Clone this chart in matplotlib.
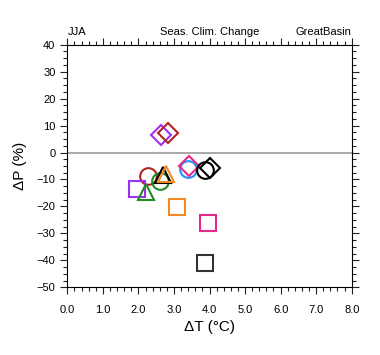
import matplotlib
matplotlib.use("Agg")
import matplotlib.pyplot as plt
from matplotlib.ticker import MultipleLocator, FormatStrFormatter

plt.rcParams['font.family'] = ['Liberation Sans', 'DejaVu Sans']

# data: (dT, dP)
dT = [2.63, 2.84, 2.27, 1.95, 2.22, 2.62, 2.70, 2.77, 3.39, 3.43, 3.86, 4.01, 3.09, 3.97, 3.87]
dP = [6.5, 7.1, -8.7, -13.5, -14.5, -10.5, -8.3, -8.1, -6.2, -4.9, -6.6, -5.9, -20.2, -26.3, -40.9]
markers = ['D', 'D', 'o', 's', '^', 'o', '^', '^', 'o', 'D', 'o', 'D', 's', 's', 's']
colors = ['#A030F0', '#B22222', '#B22222', '#A030F0', '#228B22', '#228B22', '#000000', '#F08A24',
          '#1E90FF', '#E7298A', '#000000', '#000000', '#F08A24', '#E7298A', '#333333']

fig = plt.figure(figsize=(3.8, 3.55), dpi=100)
ax = fig.add_axes([67.3/380, 1-287.3/355, (351.7-67.3)/380, (287.3-44.7)/355])

ax.axhline(0, color='#aaaaaa', lw=1.5, zorder=1)

sizes = {'D': 10.5, 'o': 12.0, 's': 12.0, '^': 12.0}
for x, y, m, c in zip(dT, dP, markers, colors):
    ax.plot(x, y, marker=m, ms=sizes[m], mfc='none', mec=c, mew=1.5, ls='none', zorder=3)

ax.set_xlim(0, 8)
ax.set_ylim(-50, 40)
ax.xaxis.set_major_locator(MultipleLocator(1))
ax.xaxis.set_minor_locator(MultipleLocator(0.2))
ax.yaxis.set_major_locator(MultipleLocator(10))
ax.yaxis.set_minor_locator(MultipleLocator(2.5))
ax.xaxis.set_major_formatter(FormatStrFormatter('%.1f'))
ax.tick_params(which='both', direction='out', top=True, right=True, labelsize=8, width=0.8, color='#222222')
ax.tick_params(which='major', length=5)
ax.tick_params(which='minor', length=3)
ax.tick_params(axis='x', pad=8)
for s in ax.spines.values():
    s.set_linewidth(0.8)

ax.set_xlabel('\u0394T (\u00b0C)', fontsize=11, labelpad=3)
ax.set_ylabel('\u0394P (%)', fontsize=11, labelpad=7)

ax.text(0.0, 1.03, 'JJA', transform=ax.transAxes, ha='left', va='bottom', fontsize=8)
ax.text(0.5, 1.03, 'Seas. Clim. Change', transform=ax.transAxes, ha='center', va='bottom', fontsize=8)
ax.text(1.0, 1.03, 'GreatBasin', transform=ax.transAxes, ha='right', va='bottom', fontsize=8)

fig.savefig('out.png', dpi=100)
